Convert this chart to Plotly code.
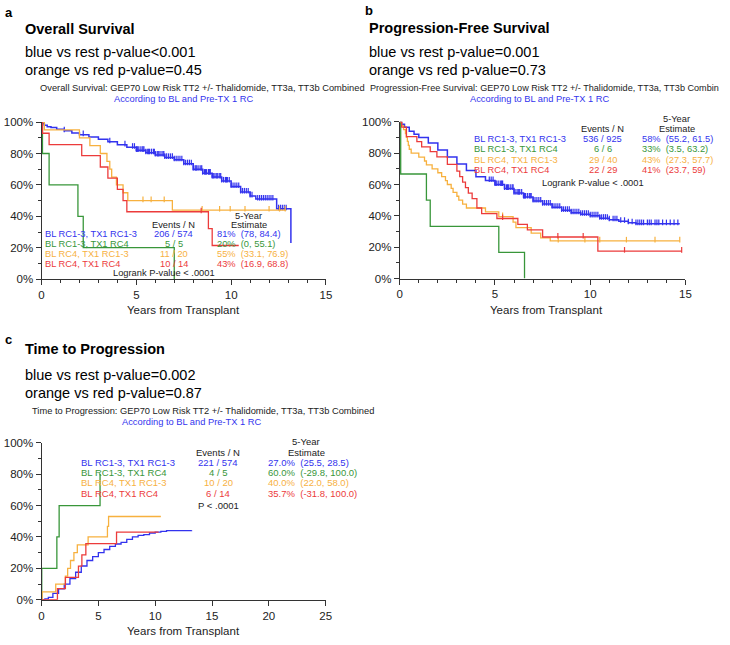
import numpy as np
import plotly.graph_objects as go

W, H = 730, 645
FONT = "Liberation Sans, Arial, sans-serif"

BLUE = "#3333EE"
GREEN = "#38963A"
ORANGE = "#F7B13F"
RED = "#EC3B3B"
COLORS = [BLUE, GREEN, ORANGE, RED]

# ---------------- Panel a: Overall survival (years, % alive) ----------------
os_blue_t = [0, 0.05, 0.15, 0.3, 0.5, 0.8, 1.2, 1.6, 2.0, 2.5, 3.0, 3.5, 4.0, 4.5, 5.0, 5.5, 6.0, 6.5,
             7.0, 7.5, 8.0, 8.5, 9.0, 9.5, 10.0, 10.5, 11.0, 11.3, 12.4, 13.15]
os_blue_s = [100, 99, 98, 97, 96.5, 95.5, 94.5, 93, 92, 90.5, 89, 87.5, 85.5, 84, 82, 80.5, 79, 77.5,
             76, 73.5, 70, 67.5, 65, 62.5, 59, 55.5, 53, 51, 44.8, 23]
os_blue_cens = [1.2, 2.2, 3.6, 4.4, 4.8, 4.9, 5.0, 5.05, 5.1, 5.2, 5.3, 5.35, 5.4, 5.5, 5.6, 5.65, 5.7,
                5.8, 5.9, 5.95, 6.0, 6.1, 6.15, 6.2, 6.3, 6.4, 6.45, 6.5, 6.6, 6.7, 6.8, 6.9, 7.0,
                7.1, 7.2, 7.3, 7.4, 7.5, 7.6, 7.7, 7.8, 7.9, 8.0, 8.1, 8.15, 8.2, 8.3, 8.4, 8.45,
                8.5, 8.6, 8.65, 8.7, 8.8, 8.85, 8.9, 9.0, 9.05, 9.1, 9.2, 9.25, 9.3, 9.4, 9.45,
                9.5, 9.6, 9.7, 9.75, 9.8, 9.9, 10.0, 10.1, 10.2, 10.3, 10.4, 10.5, 10.6, 10.7,
                10.8, 10.9, 11.0, 11.1, 11.4, 11.5, 11.6, 11.7, 11.8, 11.9, 12.0, 12.1, 12.2,
                12.5, 12.6, 12.7, 12.8, 12.9]
os_green_t = [0, 0.05, 0.4, 1.92, 2.2, 7.0]
os_green_s = [100, 80, 60, 40, 20, 0]
os_green_cens = []
os_orange_t = [0, 0.15, 2.0, 2.55, 3.1, 3.45, 3.6, 3.7, 3.95, 4.3, 4.55, 6.9, 12.9]
os_orange_s = [100, 95, 90, 85, 80, 75, 70, 65, 60, 55, 50, 44, 44]
os_orange_cens = [5.35, 5.78, 6.47, 8.47, 9.39, 9.95, 10.73, 12.0, 12.55, 12.85]
os_red_t = [0, 0.05, 0.4, 2.12, 3.1, 3.5, 4.0, 4.3, 4.5, 8.8, 9.0, 10.4]
os_red_s = [100, 92.9, 85.7, 78.6, 71.4, 64.3, 57.1, 50, 42.9, 32.1, 21.4, 21.4]
os_red_cens = [8.42]

# ---------------- Panel b: Progression-free survival ----------------
pfs_blue_t = [0, 0.1, 0.25, 0.5, 0.75, 1.0, 1.5, 2.0, 2.5, 3.0, 3.5, 4.0, 4.5, 5.0, 5.5, 6.0, 6.5, 7.0,
              7.5, 8.0, 8.5, 9.0, 9.5, 10.0, 10.5, 11.0, 11.5, 12.0, 12.4, 14.7]
pfs_blue_s = [100, 98.5, 96.5, 94, 92, 90, 86.5, 82, 77.5, 73, 69, 65, 62.5, 60, 57.5, 54.5, 52, 49.5,
              47.5, 45.5, 43.5, 42, 41, 40, 38.5, 37.5, 36.5, 35.6, 35, 35]
pfs_blue_cens = [4.7, 4.8, 4.9, 5.0, 5.05, 5.1, 5.2, 5.3, 5.35, 5.4, 5.5, 5.6, 5.65, 5.7, 5.8, 5.9,
                 5.95, 6.0, 6.1, 6.2, 6.25, 6.3, 6.4, 6.5, 6.55, 6.6, 6.7, 6.8, 6.85, 6.9, 7.0, 7.1,
                 7.2, 7.3, 7.4, 7.5, 7.6, 7.7, 7.8, 7.9, 8.0, 8.1, 8.2, 8.3, 8.4, 8.5, 8.6, 8.7,
                 8.8, 8.9, 9.0, 9.1, 9.2, 9.3, 9.4, 9.5, 9.6, 9.7, 9.8, 9.9, 10.0, 10.1, 10.2,
                 10.3, 10.4, 10.5, 10.6, 10.7, 10.8, 10.9, 11.0, 11.2, 11.3, 11.4, 11.6, 11.8,
                 12.0, 12.2, 12.4, 12.5, 12.6, 12.7, 12.8, 13.0, 13.1, 13.2, 13.4, 13.5, 13.6,
                 13.8, 14.0, 14.2, 14.4, 14.6]
pfs_green_t = [0, 0.05, 1.4, 1.6, 5.2, 6.55]
pfs_green_s = [100, 66.7, 50, 33.3, 16.7, 0]
pfs_green_cens = []
pfs_orange_t = [0, 0.1, 0.2, 0.3, 0.35, 0.4, 0.45, 0.5, 0.6, 1.0, 1.3, 1.4, 1.7, 2.0, 2.2, 2.4, 2.5,
                2.7, 2.8, 3.0, 3.1, 3.3, 3.5, 4.5, 5.2, 5.95, 6.1, 6.9, 7.4, 7.9, 14.7]
pfs_orange_s = [100, 97.5, 95, 92.5, 90, 87.5, 85, 82.5, 80, 77.5, 75, 72.5, 70, 67.5, 65, 62.5, 60,
                57.5, 55, 52.5, 50, 47.5, 45, 42.5, 39.5, 36, 32.5, 29, 26, 24, 24]
pfs_orange_cens = [5.4, 8.32, 9.72, 10.5, 11.9, 13.4, 14.7]
pfs_red_t = [0, 0.1, 0.35, 0.9, 1.15, 1.6, 1.95, 2.5, 3.0, 3.15, 3.3, 3.45, 3.6, 3.8, 4.05, 4.3,
             5.1, 6.2, 6.7, 7.5, 10.4, 14.8]
pfs_red_s = [100, 96.6, 90.6, 87.3, 84, 81, 77.6, 72.8, 68.5, 65, 61.5, 58, 54.5, 51, 45, 41.4,
             38.3, 34.5, 31, 26.5, 17.5, 17.5]
pfs_red_cens = [5.4, 8.3, 9.63, 11.8, 14.8]

# ---------------- Panel c: Time to progression (cumulative %) ----------------
ttp_blue_t = [0, 0.3, 0.6, 1.0, 1.5, 2.0, 2.5, 3.0, 3.5, 4.0, 4.5, 5.0, 5.5, 6.0, 6.5, 7.0, 7.5, 8.0,
              8.5, 9.0, 9.5, 10.0, 10.5, 11.0, 13.2]
ttp_blue_v = [0, 0.5, 1.5, 4, 7, 10, 13.5, 17.5, 21.5, 25, 27.5, 30, 32, 34, 35.5, 36.5, 38.5, 40,
              41, 41.5, 42.5, 43, 43.5, 44, 44.2]
ttp_green_t = [0, 0.02, 1.35, 1.55, 5.15]
ttp_green_v = [0, 20, 40, 60, 80]
ttp_orange_t = [0, 0.05, 1.25, 2.1, 2.3, 2.55, 2.85, 3.15, 4.1, 5.8, 5.9, 10.5]
ttp_orange_v = [0, 5, 10, 15, 20, 25, 30, 35, 40, 46.7, 53, 53]
ttp_red_t = [0, 1.4, 2.1, 3.25, 3.55, 3.9, 6.6, 10.3]
ttp_red_v = [0, 7.1, 14.3, 21.4, 28.6, 35.7, 43, 43]

# ---------------- Text content ----------------
groups = ["BL RC1-3, TX1 RC1-3", "BL RC1-3, TX1 RC4", "BL RC4, TX1 RC1-3", "BL RC4, TX1 RC4"]
os_events = ["206 / 574", "5 / 5", "11 / 20", "10 / 14"]
os_est = ["81%\u00a0 (78, 84.4)", "20%\u00a0 (0, 55.1)", "55%\u00a0 (33.1, 76.9)", "43%\u00a0 (16.9, 68.8)"]
pfs_events = ["536 / 925", "6 / 6", "29 / 40", "22 / 29"]
pfs_est = ["58%\u00a0 (55.2, 61.5)", "33%\u00a0 (3.5, 63.2)", "43%\u00a0 (27.3, 57.7)", "41%\u00a0 (23.7, 59)"]
ttp_events = ["221 / 574", "4 / 5", "10 / 20", "6 / 14"]
ttp_est = ["27.0%\u00a0 (25.5, 28.5)", "60.0%\u00a0 (-29.8, 100.0)", "40.0%\u00a0 (22.0, 58.0)",
           "35.7%\u00a0 (-31.8, 100.0)"]

y_ticks = [0, 20, 40, 60, 80, 100]
y_ticklabels = ["0%", "20%", "40%", "60%", "80%", "100%"]


def step_at(ts, vs, c):
    i = int(np.searchsorted(np.array(ts), c, side="right")) - 1
    return vs[max(i, 0)]


fig = go.Figure()


def add_curve(ts, vs, cens, color, xa, ya, width=1.3):
    fig.add_trace(go.Scatter(x=ts, y=vs, mode="lines", line=dict(color=color, width=width, shape="hv"),
                             xaxis=xa, yaxis=ya, showlegend=False, hoverinfo="skip", cliponaxis=False))
    if cens:
        fig.add_trace(go.Scatter(x=cens, y=[step_at(ts, vs, c) + 0.8 for c in cens], mode="markers",
                                 marker=dict(symbol="line-ns-open", size=4, color=color,
                                             line=dict(color=color, width=1.2)),
                                 xaxis=xa, yaxis=ya, showlegend=False, hoverinfo="skip", cliponaxis=False))


add_curve(os_blue_t, os_blue_s, os_blue_cens, BLUE, "x", "y", 1.5)
add_curve(os_green_t, os_green_s, os_green_cens, GREEN, "x", "y")
add_curve(os_orange_t, os_orange_s, os_orange_cens, ORANGE, "x", "y")
add_curve(os_red_t, os_red_s, os_red_cens, RED, "x", "y")

add_curve(pfs_blue_t, pfs_blue_s, pfs_blue_cens, BLUE, "x2", "y2", 1.5)
add_curve(pfs_green_t, pfs_green_s, pfs_green_cens, GREEN, "x2", "y2")
add_curve(pfs_orange_t, pfs_orange_s, pfs_orange_cens, ORANGE, "x2", "y2")
add_curve(pfs_red_t, pfs_red_s, pfs_red_cens, RED, "x2", "y2")

add_curve(ttp_blue_t, ttp_blue_v, [], BLUE, "x3", "y3", 1.3)
add_curve(ttp_green_t, ttp_green_v, [], GREEN, "x3", "y3")
add_curve(ttp_orange_t, ttp_orange_v, [], ORANGE, "x3", "y3")
add_curve(ttp_red_t, ttp_red_v, [], RED, "x3", "y3")

AX = "#333333"


def xaxis(dom, rng, dtick, minor):
    d = dict(domain=dom, range=rng, dtick=dtick, tick0=0, showline=True, linecolor=AX, linewidth=1,
             ticks="outside", ticklen=5, tickcolor=AX, showgrid=False, zeroline=False,
             tickfont=dict(family=FONT, size=11.5, color="#222"), fixedrange=True)
    if minor:
        d["minor"] = dict(dtick=minor, tick0=0, ticks="outside", ticklen=3, tickcolor=AX, showgrid=False)
    return d


def yaxis(dom, anchor):
    return dict(domain=dom, range=[0, 100], tickvals=y_ticks, ticktext=y_ticklabels, showline=True,
                linecolor=AX, linewidth=1, ticks="outside", ticklen=5, tickcolor=AX, showgrid=False,
                zeroline=False, anchor=anchor, tickfont=dict(family=FONT, size=11.5, color="#222"),
                minor=dict(dtick=10, tick0=0, ticks="outside", ticklen=3, tickcolor=AX, showgrid=False),
                fixedrange=True)


def px(x):
    return x / W


def py(y):
    return 1 - y / H


fig.update_layout(
    width=W, height=H, margin=dict(l=0, r=0, t=0, b=0), paper_bgcolor="white", plot_bgcolor="white",
    xaxis=xaxis([px(39), px(327)], [0, 15], 5, 1) | dict(anchor="y"),
    yaxis=yaxis([py(278.3), py(118.3)], "x"),
    xaxis2=xaxis([px(401.7), px(691)], [0, 15], 5, 1) | dict(anchor="y2"),
    yaxis2=yaxis([py(277.7), py(118)], "x2"),
    xaxis3=xaxis([px(39), px(326.7)], [0, 25], 5, None) | dict(anchor="y3"),
    yaxis3=yaxis([py(605), py(445)], "x3"),
)

anns = []


def ann(text, x, y, size, color="#111", anchor="left", bold=False):
    if bold:
        text = "<b>" + text + "</b>"
    anns.append(dict(text=text, x=px(x), y=py(y), xref="paper", yref="paper", xanchor=anchor,
                     yanchor="middle", showarrow=False, font=dict(family=FONT, size=size, color=color)))


SUB = 9.3
# Panel headers
ann("a", 0, 7, 13, "#000", bold=True)
ann("Overall Survival", 20, 23, 14.5, "#000", bold=True)
ann("blue vs rest p-value<0.001", 20, 46.5, 14.5, "#000")
ann("orange vs red p-value=0.45", 20, 65, 14.5, "#000")
ann("Overall Survival: GEP70 Low Risk TT2 +/- Thalidomide, TT3a, TT3b Combined", 202, 84, SUB, "#222", "center")
ann("According to BL and Pre-TX 1 RC", 183, 95, SUB, BLUE, "center")

ann("b", 364, 5, 13, "#000", bold=True)
ann("Progression-Free Survival", 369, 22.5, 14.5, "#000", bold=True)
ann("blue vs rest p-value=0.001", 369, 46.5, 14.5, "#000")
ann("orange vs red p-value=0.73", 369, 65, 14.5, "#000")
ann("Progression-Free Survival: GEP70 Low Risk TT2 +/- Thalidomide, TT3a, TT3b Combin", 370, 84, 9.1, "#222", "left")
ann("According to BL and Pre-TX 1 RC", 543, 95, SUB, BLUE, "center")

ann("c", 0, 340, 13, "#000", bold=True)
ann("Time to Progression", 20, 350, 14.5, "#000", bold=True)
ann("blue vs rest p-value=0.002", 20, 375.5, 14.5, "#000")
ann("orange vs red p-value=0.87", 20, 394, 14.5, "#000")
ann("Time to Progression: GEP70 Low Risk TT2 +/- Thalidomide, TT3a, TT3b Combined", 202, 412.5, SUB, "#222", "center")
ann("According to BL and Pre-TX 1 RC", 191, 424, SUB, BLUE, "center")

# Axis titles
ann("Years from Transplant", 183, 310, 11.5, "#222", "center")
ann("Years from Transplant", 550, 310, 11.5, "#222", "center")
ann("Years from Transplant", 183, 637, 11.5, "#222", "center")

# Panel a table
ann("5-Year", 249, 213.5, 9.3, "#222", "center")
ann("Estimate", 249, 223, 9.3, "#222", "center")
ann("Events / N", 173, 223, 9.3, "#222", "center")
rows_a = [232.5, 243, 253, 263]
for i in range(4):
    ann(groups[i], 41, rows_a[i], 9.3, COLORS[i])
    ann(os_events[i], 173, rows_a[i], 9.3, COLORS[i], "center")
    ann(os_est[i], 215, rows_a[i], 9.3, COLORS[i])
ann("Logrank P-value < .0001", 163, 272.5, 9.3, "#222", "center")

# Panel b table
ann("5-Year", 682, 115, 9.3, "#222", "center")
ann("Estimate", 682, 125.5, 9.3, "#222", "center")
ann("Events / N", 607, 125.5, 9.3, "#222", "center")
rows_b = [135.5, 146, 156.5, 167]
for i in range(4):
    ann(groups[i], 475, rows_b[i], 9.3, COLORS[i])
    ann(pfs_events[i], 607, rows_b[i], 9.3, COLORS[i], "center")
    ann(pfs_est[i], 645, rows_b[i], 9.3, COLORS[i])
ann("Logrank P-value < .0001", 597, 180, 9.3, "#222", "center")

# Panel c table
ann("5-Year", 307, 444, 9.5, "#222", "center")
ann("Estimate", 307, 454.5, 9.5, "#222", "center")
ann("Events / N", 218, 454.5, 9.5, "#222", "center")
rows_c = [465, 475.7, 486, 496.7]
for i in range(4):
    ann(groups[i], 77, rows_c[i], 9.5, COLORS[i])
    ann(ttp_events[i], 218, rows_c[i], 9.5, COLORS[i], "center")
    ann(ttp_est[i], 266, rows_c[i], 9.5, COLORS[i])
ann("P < .0001", 218, 509, 9.5, "#222", "center")

fig.update_layout(annotations=anns)
fig.write_html("out.html", config={"displayModeBar": False},
               post_script="document.body.style.margin='0';document.body.style.padding='0';")
